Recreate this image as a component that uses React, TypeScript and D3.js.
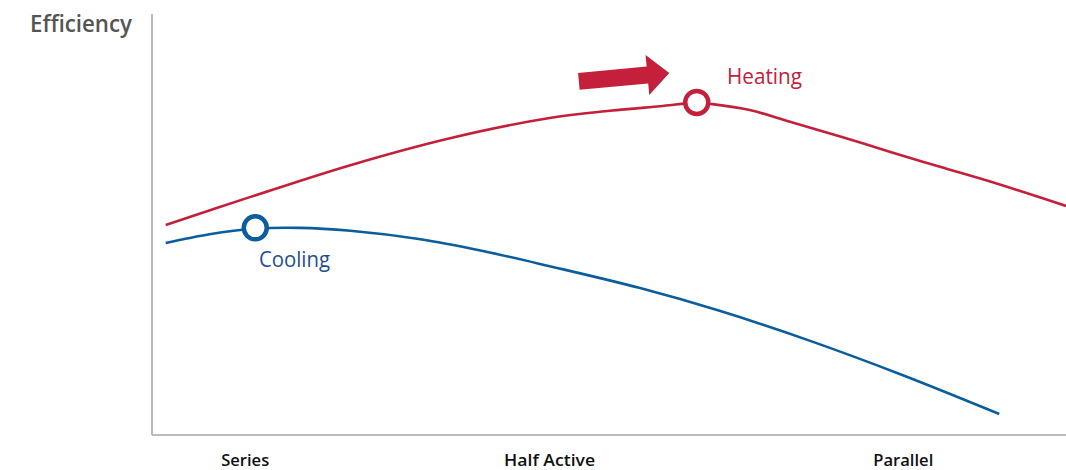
import React from "react";
import * as d3 from "d3";

const W = 1066;
const H = 470;

const categories = ["Series", "Half Active", "Parallel"];
const categoryX = [10.2, 43.5, 82.2];
const categoryWidth = [48, 91, 60];

const heatingX = [1.5, 10.7, 21.7, 32.6, 43.5, 50.1, 55.6, 59.6, 61.3, 65.4, 69.8, 75.3, 80.7, 86.2, 91.7, 100];
const heatingY = [49.9, 56.5, 64.1, 70.5, 75.3, 77.0, 78.1, 78.9, 78.6, 77.2, 74.4, 70.9, 67.3, 63.7, 60.2, 54.4];

const coolingX = [1.5, 6.3, 11.3, 16.2, 21.7, 29.0, 36.2, 43.5, 53.4, 62.1, 71.7, 81.8, 92.7];
const coolingY = [45.6, 47.7, 49.0, 49.2, 48.5, 46.6, 43.7, 40.1, 34.9, 29.5, 22.6, 14.5, 5.0];

const heatingPeak = [59.6, 79.0];
const coolingPeak = [11.3, 49.2];

const arrowFrom = [46.7, 84.0];
const arrowTo = [56.6, 86.0];

const RED = "#c4203b";
const BLUE = "#0b5d9c";

export default function App() {
  const x = d3.scaleLinear().domain([0, 100]).range([152, 1066]);
  const y = d3.scaleLinear().domain([0, 100]).range([435, 14]);

  const line = d3
    .line<[number, number]>()
    .x((d) => x(d[0]))
    .y((d) => y(d[1]))
    .curve(d3.curveCatmullRom.alpha(0.5));

  const heating = heatingX.map((v, i) => [v, heatingY[i]] as [number, number]);
  const cooling = coolingX.map((v, i) => [v, coolingY[i]] as [number, number]);

  const ax0 = x(arrowFrom[0]);
  const ay0 = y(arrowFrom[1]);
  const ax1 = x(arrowTo[0]);
  const ay1 = y(arrowTo[1]);
  const ang = (Math.atan2(ay1 - ay0, ax1 - ax0) * 180) / Math.PI;
  const len = Math.hypot(ax1 - ax0, ay1 - ay0);
  const headL = 22;
  const shaft = 8.5;
  const headW = 20;
  const arrowPath = `M0,${-shaft} L${len - headL},${-shaft} L${len - headL},${-headW} L${len},0 L${len - headL},${headW} L${len - headL},${shaft} L0,${shaft} Z`;

  return (
    <svg
      width={W}
      height={H}
      style={{ position: "absolute", left: 0, top: 0, background: "#fff" }}
    >
      <line x1={x(0)} x2={x(0)} y1={y(100)} y2={y(0)} stroke="#a6a6a6" strokeWidth={1.5} />
      <line x1={x(0)} x2={x(100)} y1={y(0)} y2={y(0)} stroke="#a6a6a6" strokeWidth={1.5} />

      <text
        x={30}
        y={32}
        fontFamily="Open Sans"
        fontWeight={600}
        fontSize={23}
        textLength={102}
        lengthAdjust="spacingAndGlyphs"
        fill="#555"
      >
        Efficiency
      </text>

      {categories.map((c, i) => (
        <text
          key={c}
          x={x(categoryX[i]) - categoryWidth[i] / 2}
          y={466}
          fontFamily="Open Sans"
          fontWeight={600}
          fontSize={17}
          textLength={categoryWidth[i]}
          lengthAdjust="spacingAndGlyphs"
          fill="#111"
        >
          {c}
        </text>
      ))}

      <path d={line(heating) || ""} fill="none" stroke={RED} strokeWidth={2.6} />
      <path d={line(cooling) || ""} fill="none" stroke={BLUE} strokeWidth={2.6} />

      <circle cx={x(heatingPeak[0])} cy={y(heatingPeak[1])} r={11.5} fill="#fff" stroke={RED} strokeWidth={4.5} />
      <circle cx={x(coolingPeak[0])} cy={y(coolingPeak[1])} r={11.5} fill="#fff" stroke={BLUE} strokeWidth={4.5} />

      <path d={arrowPath} fill={RED} transform={`translate(${ax0},${ay0}) rotate(${ang})`} />

      <text
        x={727}
        y={84}
        fontFamily="Open Sans"
        fontWeight={500}
        fontSize={21}
        textLength={75}
        lengthAdjust="spacingAndGlyphs"
        fill={RED}
      >
        Heating
      </text>
      <text
        x={259}
        y={267}
        fontFamily="Open Sans"
        fontWeight={500}
        fontSize={21}
        textLength={71}
        lengthAdjust="spacingAndGlyphs"
        fill="#1d4f8e"
      >
        Cooling
      </text>
    </svg>
  );
}
